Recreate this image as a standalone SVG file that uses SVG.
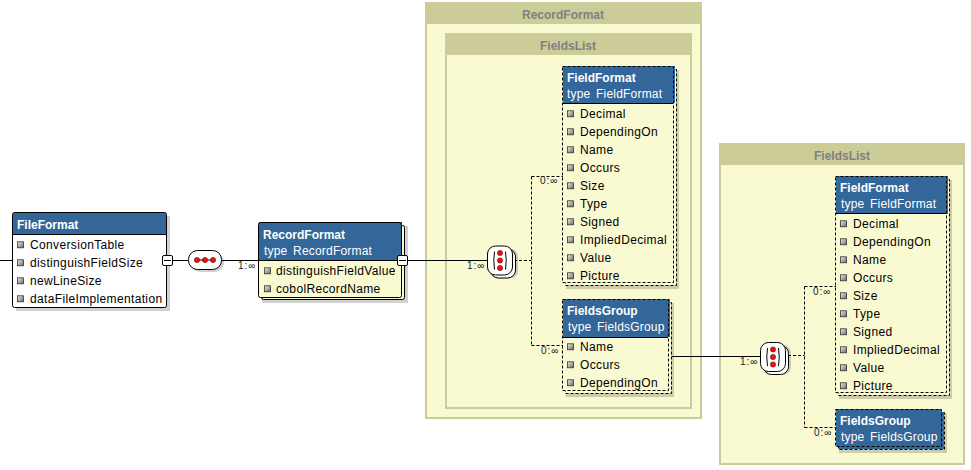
<svg xmlns="http://www.w3.org/2000/svg" xmlns:xlink="http://www.w3.org/1999/xlink" width="971" height="470" viewBox="0 0 971 470">
<style>
text{font-family:"Liberation Sans",Arial,sans-serif;font-size:12px;letter-spacing:.35px;fill:#000}
.t{font-weight:bold;fill:#fff;letter-spacing:0}
.s{fill:#fff;letter-spacing:.2px;word-spacing:2px}
.m{font-size:10px;letter-spacing:1px;fill:#222}
.gt{font-weight:bold;fill:#808080;text-anchor:middle;letter-spacing:0}
.gb{fill:#fafad2;stroke:#cccc99;stroke-width:2}
.gh{fill:#cccc99}
.hd{fill:#336699}
.sh{fill:#000;opacity:.18}
.bd{fill:none;stroke:#000;stroke-width:1}
.da{fill:none;stroke:#000;stroke-width:1;stroke-dasharray:3 2}
.w{fill:#fff;stroke:#000}
.y{fill:#fafad2}
.ln{fill:none;stroke:#000}
</style>
<defs>
<linearGradient id="bg" x1="0" y1="0" x2="1" y2="1"><stop offset="0" stop-color="#eee"/><stop offset="1" stop-color="#666"/></linearGradient>
<g id="b"><rect x=".5" y=".8" width="6" height="6" fill="url(#bg)" stroke="#333" stroke-width=".8"/></g>
<circle id="dot" r="2.600" fill="#ee1111" stroke="#700" stroke-width=".6"/>
<g id="tog"><rect x="-5" y="-5" width="10" height="10" rx="1.500" fill="#fff" stroke="#000"/><path d="M-3.500 0H3.500" stroke="#000"/></g>
<g id="ch">
<rect x="3" y="3" width="28" height="30" rx="8" class="sh"/>
<rect x="3.500" y="3.500" width="25" height="29" rx="8" class="w"/>
<rect x=".5" y=".5" width="25" height="29" rx="8" class="w"/>
<path d="M7.500 6Q6 15 7.500 24M18.500 6Q20 15 18.500 24" fill="none" stroke="#000"/>
<use xlink:href="#dot" x="13" y="7.500"/><use xlink:href="#dot" x="13" y="15"/><use xlink:href="#dot" x="13" y="22.500"/>
</g>
</defs>

<g id="group-recordformat"><rect class="gb" x="426" y="3" width="275" height="415"/><rect class="gh" x="425" y="2" width="277" height="22"/><text class="gt" x="563" y="19">RecordFormat</text></g>
<g id="group-fieldslist-1"><rect class="gb" x="446" y="34" width="245" height="374"/><rect class="gh" x="445" y="33" width="247" height="22"/><text class="gt" x="568" y="50">FieldsList</text></g>
<g id="group-fieldslist-2"><rect class="gb" x="720" y="144" width="244" height="320"/><rect class="gh" x="719" y="143" width="246" height="22"/><text class="gt" x="842" y="160">FieldsList</text></g>

<g id="connectors">
<path class="ln" d="M0 260.500H13M166 260.500H188M221 260.500H259M402 260.500H487M672 356.500H760"/>
<path class="da" d="M514 260.500H531.500M531.500 176.500V345.500M531.500 176.500H563M531.500 345.500H563"/>
<path class="da" d="M788 355.500H804.500M804.500 286.500V427.500M804.500 286.500H836M804.500 427.500H836"/>
<text class="m" x="238" y="269">1:∞</text>
<text class="m" x="467" y="269">1:∞</text>
<text class="m" x="540" y="184">0:∞</text>
<text class="m" x="541" y="354">0:∞</text>
<text class="m" x="740" y="365">1:∞</text>
<text class="m" x="813" y="295">0:∞</text>
<text class="m" x="814" y="436">0:∞</text>
</g>

<g id="seq"><rect x="191" y="253" width="33" height="19" rx="9" class="sh"/><rect x="188.500" y="250.500" width="33" height="19" rx="9" class="w"/><path d="M196 260H214" stroke="#000"/><use xlink:href="#dot" x="197" y="260"/><use xlink:href="#dot" x="205" y="260"/><use xlink:href="#dot" x="213" y="260"/></g>
<g id="choice-1" transform="translate(487 245.500)"><use xlink:href="#ch"/></g>
<g id="choice-2" transform="translate(760 342)"><use xlink:href="#ch"/></g>

<g id="node-fileformat">
<rect class="sh" x="16" y="216" width="154" height="95"/>
<rect x="13" y="213" width="153" height="94" fill="#fff"/>
<rect class="hd" x="13" y="213" width="153" height="21"/>
<path class="ln" d="M13 234.500H166"/>
<rect class="bd" x="12.500" y="212.500" width="154" height="95" rx="2"/>
<text class="t" x="17" y="229">FileFormat</text>
<use xlink:href="#b" x="17" y="241"/><text x="30" y="249">ConversionTable</text>
<use xlink:href="#b" x="17" y="259"/><text x="30" y="267">distinguishFieldSize</text>
<use xlink:href="#b" x="17" y="277"/><text x="30" y="285">newLineSize</text>
<use xlink:href="#b" x="17" y="295"/><text x="30" y="303">dataFileImplementation</text>
<use xlink:href="#tog" x="167.500" y="260.500"/>
</g>

<g id="node-recordformat">
<rect class="sh" x="262" y="226" width="146" height="77"/>
<rect class="y" x="262" y="225" width="142" height="74"/><rect class="bd" x="261.500" y="225.500" width="143" height="74" rx="2"/>
<rect class="y" x="259" y="222" width="142" height="75"/>
<rect class="hd" x="259" y="222" width="143" height="38"/>
<path class="ln" d="M259 260.500H402"/>
<rect class="bd" x="258.500" y="222.500" width="143" height="75" rx="2"/>
<text class="t" x="263" y="239">RecordFormat</text>
<text class="s" x="264" y="255">type RecordFormat</text>
<use xlink:href="#b" x="264" y="267"/><text x="276" y="275">distinguishFieldValue</text>
<use xlink:href="#b" x="264" y="285"/><text x="276" y="293">cobolRecordName</text>
<use xlink:href="#tog" x="402.500" y="260.500"/>
</g>

<g id="node-fieldformat-1">
<rect class="sh" x="566" y="70" width="113" height="219"/>
<rect class="y" x="566" y="69" width="110" height="216"/><rect class="da" x="565.500" y="69.500" width="111" height="216"/>
<rect class="y" x="563" y="66" width="110" height="217"/>
<rect class="hd" x="563" y="66" width="112" height="37"/>
<path class="ln" d="M563 103.500H673"/>
<rect class="da" x="562.500" y="66.500" width="111" height="216"/>
<text class="t" x="567" y="82">FieldFormat</text>
<text class="s" x="567" y="98">type FieldFormat</text>
<use xlink:href="#b" x="567" y="110"/><text x="580" y="118">Decimal</text>
<use xlink:href="#b" x="567" y="128"/><text x="580" y="136">DependingOn</text>
<use xlink:href="#b" x="567" y="146"/><text x="580" y="154">Name</text>
<use xlink:href="#b" x="567" y="164"/><text x="580" y="172">Occurs</text>
<use xlink:href="#b" x="567" y="182"/><text x="580" y="190">Size</text>
<use xlink:href="#b" x="567" y="200"/><text x="580" y="208">Type</text>
<use xlink:href="#b" x="567" y="218"/><text x="580" y="226">Signed</text>
<use xlink:href="#b" x="567" y="236"/><text x="580" y="244">ImpliedDecimal</text>
<use xlink:href="#b" x="567" y="254"/><text x="580" y="262">Value</text>
<use xlink:href="#b" x="567" y="272"/><text x="580" y="280">Picture</text>
</g>

<g id="node-fieldsgroup-1">
<rect class="sh" x="566" y="303" width="108" height="94"/>
<rect class="y" x="566" y="302" width="105" height="91"/><rect class="da" x="565.500" y="302.500" width="106" height="91"/>
<rect class="y" x="563" y="299" width="105" height="92"/>
<rect class="hd" x="563" y="299" width="107" height="38"/>
<path class="ln" d="M563 337.500H668"/>
<rect class="da" x="562.500" y="299.500" width="106" height="91"/>
<text class="t" x="567" y="315">FieldsGroup</text>
<text class="s" x="568" y="331">type FieldsGroup</text>
<use xlink:href="#b" x="567" y="343"/><text x="580" y="351">Name</text>
<use xlink:href="#b" x="567" y="361"/><text x="580" y="369">Occurs</text>
<use xlink:href="#b" x="567" y="379"/><text x="580" y="387">DependingOn</text>
</g>

<g id="node-fieldformat-2">
<rect class="sh" x="839" y="180" width="113" height="219"/>
<rect class="y" x="839" y="179" width="110" height="216"/><rect class="da" x="838.500" y="179.500" width="111" height="216"/>
<rect class="y" x="836" y="176" width="110" height="217"/>
<rect class="hd" x="836" y="176" width="112" height="38"/>
<path class="ln" d="M836 213.500H946"/>
<rect class="da" x="835.500" y="176.500" width="111" height="216"/>
<text class="t" x="840" y="192">FieldFormat</text>
<text class="s" x="841" y="208">type FieldFormat</text>
<use xlink:href="#b" x="840" y="220"/><text x="853" y="228">Decimal</text>
<use xlink:href="#b" x="840" y="238"/><text x="853" y="246">DependingOn</text>
<use xlink:href="#b" x="840" y="256"/><text x="853" y="264">Name</text>
<use xlink:href="#b" x="840" y="274"/><text x="853" y="282">Occurs</text>
<use xlink:href="#b" x="840" y="292"/><text x="853" y="300">Size</text>
<use xlink:href="#b" x="840" y="310"/><text x="853" y="318">Type</text>
<use xlink:href="#b" x="840" y="328"/><text x="853" y="336">Signed</text>
<use xlink:href="#b" x="840" y="346"/><text x="853" y="354">ImpliedDecimal</text>
<use xlink:href="#b" x="840" y="364"/><text x="853" y="372">Value</text>
<use xlink:href="#b" x="840" y="382"/><text x="853" y="390">Picture</text>
</g>

<g id="node-fieldsgroup-2">
<rect class="sh" x="839" y="413" width="108" height="40"/>
<rect class="hd" x="839" y="412" width="105" height="37"/><rect class="da" x="838.500" y="412.500" width="106" height="37"/>
<rect class="hd" x="836" y="409" width="105" height="37"/>
<rect class="da" x="835.500" y="409.500" width="106" height="37"/>
<text class="t" x="840" y="425">FieldsGroup</text>
<text class="s" x="841" y="441">type FieldsGroup</text>
</g>
</svg>
